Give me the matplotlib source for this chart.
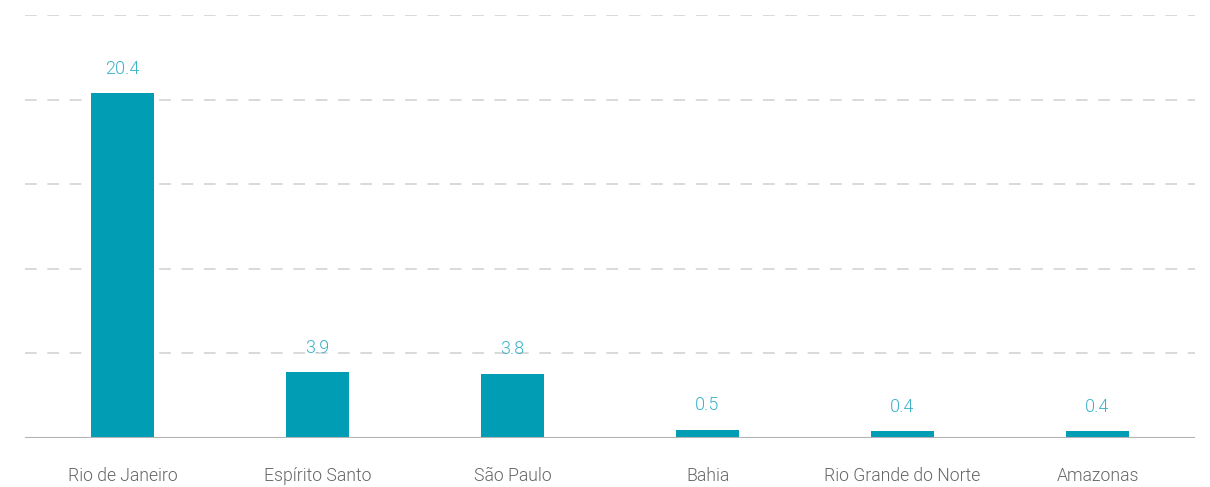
import matplotlib
matplotlib.use("Agg")
import matplotlib.pyplot as plt

states = ["Rio de Janeiro", "Espírito Santo", "São Paulo", "Bahia",
          "Rio Grande do Norte", "Amazonas"]
values = [20.4, 3.9, 3.8, 0.5, 0.4, 0.4]
grid_levels = [5, 10, 15, 20, 25]

bar_color = "#009db5"
label_color = "#3db3ca"
tick_color = "#666666"

plt.rcParams["font.family"] = ["Roboto", "DejaVu Sans"]

fig = plt.figure(figsize=(12.1, 4.87), dpi=100)
ax = fig.add_axes([25 / 1210, 49 / 487, 1170 / 1210, 423 / 487])

x = list(range(len(states)))
ax.bar(x, values, width=0.318, color=bar_color, zorder=3)

for level in grid_levels:
    ax.axhline(level, color="#d9d9d9", linewidth=1.4, linestyle=(0, (6, 5.5)), zorder=1)
ax.axhline(0, color="#b3b3b3", linewidth=1.5, zorder=4)

for xi, v in zip(x, values):
    ax.annotate(f"{v}", (xi, v), xytext=(0, 11), textcoords="offset points",
                ha="center", va="bottom", color=label_color, fontsize=13,
                fontweight=300)

ax.set_xlim(-0.5, len(states) - 0.5)
ax.set_ylim(0, 25)
ax.set_xticks(x)
ax.set_xticklabels(states, fontsize=12.7, color=tick_color, fontweight=300)
ax.tick_params(axis="x", length=0, pad=21)
ax.set_yticks([])
for s in ax.spines.values():
    s.set_visible(False)

fig.savefig("out.png", dpi=100, facecolor="white")
